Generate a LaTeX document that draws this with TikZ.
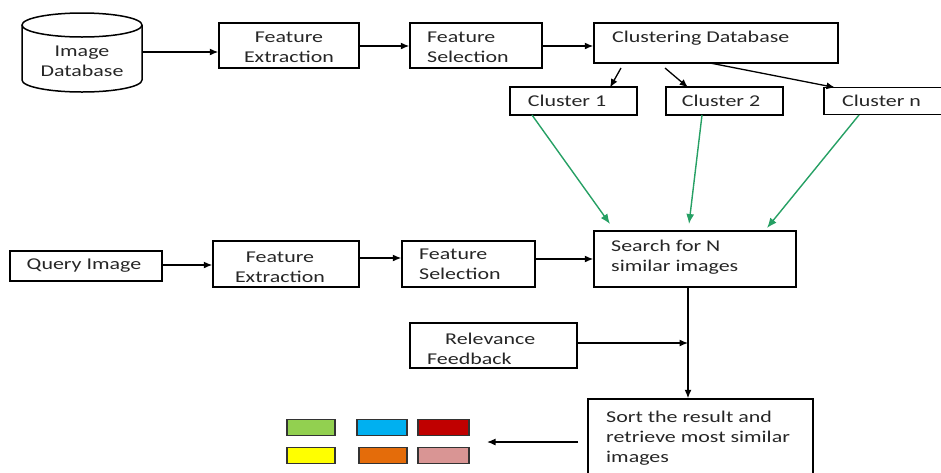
\documentclass[tikz,border=0pt]{standalone}
\usepackage{fontspec}
\setmainfont{Carlito}[FakeStretch=1.33]
\usetikzlibrary{arrows.meta}
\definecolor{grn}{RGB}{38,160,100}
\definecolor{cgreen}{RGB}{146,208,80}
\definecolor{cblue}{RGB}{0,176,240}
\definecolor{cred}{RGB}{192,0,0}
\definecolor{cyellow}{RGB}{255,255,0}
\definecolor{corange}{RGB}{228,108,10}
\definecolor{cpink}{RGB}{217,149,148}
\tikzset{
  box/.style={draw, line width=1.5pt, inner sep=0pt},
  txt/.style={inner sep=0pt, font=\fontsize{16.5}{20}\selectfont, text=black!85},
  arr/.style={line width=1.3pt, -{Latex[length=8.5pt,width=7pt]}},
  garr/.style={line width=1.4pt, draw=grn, -{Latex[length=10pt,width=8pt]}, grn},
  swatch/.style={draw=black!80, line width=1.2pt, inner sep=0pt, minimum width=48pt, minimum height=16pt},
}
\begin{document}
\begin{tikzpicture}[x=1pt,y=-1pt]
\useasboundingbox (0,0) rectangle (941,472);
\clip (0,0) rectangle (941,472);
% cylinder
\draw[line width=1.5pt] (22,25) -- (22,80) arc[start angle=180,end angle=0,x radius=60,y radius=12] -- (142,25);
\draw[line width=1.5pt] (82,25) ellipse[x radius=60,y radius=12];
\node[txt, align=center] (imgdb) at (82,61) {Image\\Database};
\coordinate (imgdbE) at (142,52);
% top row
\node[box, minimum width=140pt, minimum height=45pt] (fe1) at (289,45.5) {};
\node[txt, align=center] (fe1t) at (289,47.5) {Feature\\Extraction};
\node[box, minimum width=132pt, minimum height=45pt] (fs1) at (476,45.5) {};
\node[txt, align=left, anchor=west] (fs1t) at (427,47.5) {Feature\\Selection};
\node[box, minimum width=244pt, minimum height=40pt] (cd) at (716,43) {};
\node[txt, anchor=west] (cdt) at (612,38) {Clustering Database};
% clusters
\node[box, minimum width=127pt, minimum height=28pt] (c1) at (573.5,101) {};
\node[txt] (c1t) at (567,101) {Cluster 1};
\node[box, minimum width=117pt, minimum height=28pt] (c2) at (724.5,101) {};
\node[txt] (c2t) at (721,101) {Cluster 2};
\node[box, minimum width=136pt, minimum height=27pt] (cn) at (892,101) {};
\node[txt, anchor=west] (cnt) at (842,101) {Cluster n};
% middle row
\node[box, minimum width=152pt, minimum height=30pt] (query) at (86,266) {};
\node[txt] (queryt) at (84,266) {Query Image};
\node[box, minimum width=146pt, minimum height=46pt] (fe2) at (286,264) {};
\node[txt, align=center] (fe2t) at (280,267.5) {Feature\\Extraction};
\node[box, minimum width=133pt, minimum height=46pt] (fs2) at (468.5,264) {};
\node[txt, align=left, anchor=west] (fs2t) at (419,264.5) {Feature\\Selection};
\node[box, minimum width=202pt, minimum height=56pt] (search) at (695,259) {};
\node[txt, align=left, anchor=west] (searcht) at (611,257.5) {Search for N\\similar images};
% bottom
\node[box, minimum width=167pt, minimum height=45pt] (rel) at (493.5,345.5) {};
\node[txt, align=left, anchor=west] (relt) at (427,349) {\hspace*{18pt}Relevance\\Feedback};
\node[box, minimum width=225pt, minimum height=92pt] (sort) at (700.5,445) {};
\node[txt, align=left, anchor=west] (sortt) at (606,438.5) {Sort the result and\\retrieve most similar\\images};
% swatches
\node[swatch, fill=cgreen] (s1) at (311,427.5) {};
\node[swatch, fill=cblue, minimum width=50pt] (s2) at (382,427.5) {};
\node[swatch, fill=cred, minimum width=51pt] (s3) at (443.5,427.5) {};
\node[swatch, fill=cyellow] (s4) at (311,455.5) {};
\node[swatch, fill=corange] (s5) at (383,455.5) {};
\node[swatch, fill=cpink, minimum width=51pt] (s6) at (443.5,455.5) {};
% connectors
\draw[arr] (imgdbE) -- (fe1.west |- imgdbE);
\draw[arr] (fe1.east |- 0,46) -- (fs1.west |- 0,46);
\draw[arr] (fs1.east |- 0,46) -- (cd.west |- 0,46);
\coordinate (cdA) at (621,68);
\coordinate (cdB) at (665,68);
\coordinate (cdC) at (710,63);
\draw[arr] (cdA) -- (610,87.5);
\draw[arr] (cdB) -- (688,87.5);
\draw[arr] (cdC) -- (835,87.5);
\coordinate (g1) at (610,224);
\coordinate (g2) at (689,224);
\coordinate (g3) at (767,228);
\draw[garr] (532,115) -- (g1);
\draw[garr] (702,115) -- (g2);
\draw[garr] (859,115) -- (g3);
\draw[arr] (query.east |- 0,265) -- (fe2.west |- 0,265);
\draw[arr] (fe2.east |- 0,258) -- (fs2.west |- 0,258);
\draw[arr] (fs2.east |- 0,259) -- (search.west |- 0,259);
\coordinate (join) at (688,343);
\draw[arr] (search.south -| join) -- (sort.north -| join);
\draw[arr] (rel.east |- join) -- (join);
\coordinate (sortL) at (578,442);
\coordinate (swR) at (487,442);
\draw[arr] (sortL) -- (swR);
\end{tikzpicture}
\end{document}
